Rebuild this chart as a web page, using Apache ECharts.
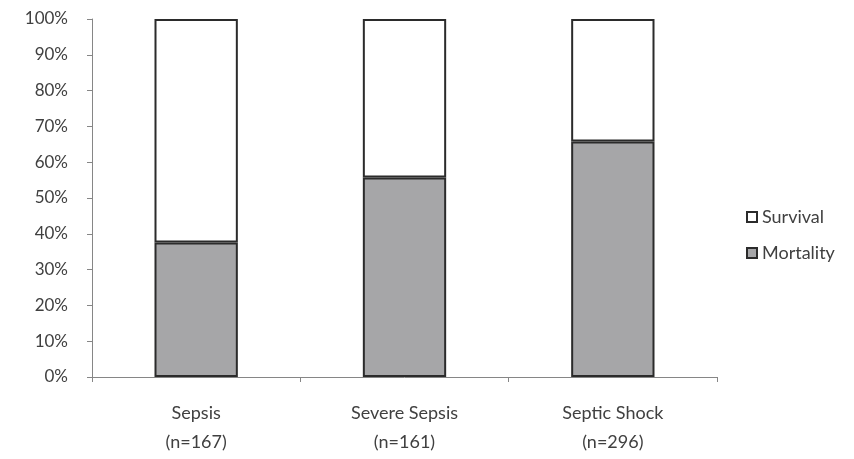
<!DOCTYPE html>
<html>
<head>
<meta charset="utf-8">
<script src="https://cdn.jsdelivr.net/npm/echarts@6/dist/echarts.min.js"></script>
<style>
  html, body { margin: 0; padding: 0; background: #ffffff; }
  #chart { width: 854px; height: 459px; }
</style>
</head>
<body>
<div id="chart"></div>
<script>
// Outcome by sepsis severity group (percent of patients)
const categories = ['Sepsis\n(n=167)', 'Severe Sepsis\n(n=161)', 'Septic Shock\n(n=296)'];
const mortality = [37.6, 55.7, 65.8];
const survival = [62.4, 44.3, 34.2];
const yTicks = [0, 10, 20, 30, 40, 50, 60, 70, 80, 90, 100];

const FONT = 'Lato, "Open Sans", sans-serif';
const chart = echarts.init(document.getElementById('chart'), null, { renderer: 'canvas' });

chart.setOption({
  animation: false,
  backgroundColor: '#ffffff',
  grid: { left: 92, right: 137, top: 19, bottom: 82, containLabel: false },
  legend: {
    orient: 'vertical',
    left: 741,
    top: 203,
    itemWidth: 10,
    itemHeight: 10,
    itemGap: 18,
    icon: 'rect',
    data: ['Survival', 'Mortality'],
    textStyle: { fontFamily: FONT, fontSize: 18, color: '#404040', padding: [0, 0, 0, 0] }
  },
  xAxis: {
    type: 'category',
    data: categories,
    axisLine: { lineStyle: { color: '#868686', width: 1 } },
    axisTick: { show: true, length: 5, lineStyle: { color: '#868686' } },
    axisLabel: {
      fontFamily: FONT, fontSize: 18, color: '#404040', lineHeight: 29, margin: 22
    }
  },
  yAxis: {
    type: 'value',
    min: yTicks[0],
    max: yTicks[yTicks.length - 1],
    interval: 10,
    axisLine: { show: true, lineStyle: { color: '#868686', width: 1 } },
    axisTick: { show: true, length: 5, lineStyle: { color: '#868686' } },
    splitLine: { show: false },
    axisLabel: {
      fontFamily: FONT, fontSize: 17, color: '#404040', margin: 24,
      formatter: v => v + '%'
    }
  },
  series: [
    {
      name: 'Mortality',
      type: 'bar',
      stack: 'outcome',
      barWidth: '40%',
      data: mortality,
      itemStyle: { color: '#a6a6a8', borderColor: '#2b2b2b', borderWidth: 2 }
    },
    {
      name: 'Survival',
      type: 'bar',
      stack: 'outcome',
      barWidth: '40%',
      data: survival,
      itemStyle: { color: '#ffffff', borderColor: '#2b2b2b', borderWidth: 2 }
    }
  ]
});
</script>
</body>
</html>
